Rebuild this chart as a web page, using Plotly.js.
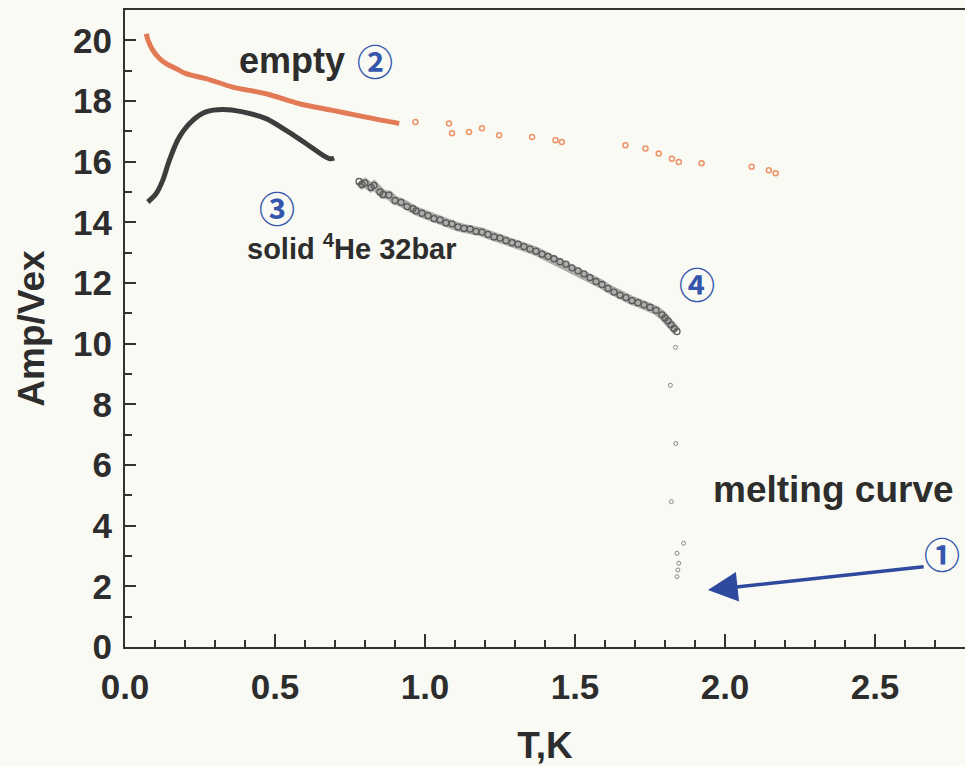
<!DOCTYPE html>
<html>
<head>
<meta charset="utf-8">
<script src="https://cdn.plot.ly/plotly-3.0.1.min.js"></script>
<style>html,body{margin:0;padding:0;background:#f9faf4;}</style>
</head>
<body>
<div id="chart" style="width:965px;height:766px;"></div>
<script>
// ② empty cell (dense part)
const emptyT = [0.071,0.077,0.093,0.115,0.137,0.170,0.204,0.270,0.359,0.470,0.581,0.692,0.803,0.858,0.914];
const emptyA = [20.22,20.00,19.67,19.40,19.23,19.07,18.90,18.74,18.46,18.24,17.91,17.69,17.47,17.36,17.26];
// ② empty cell (sparse tail)
const emptyTailT = [0.968,1.080,1.090,1.147,1.190,1.247,1.357,1.435,1.456,1.668,1.735,1.779,1.823,1.846,1.922,2.089,2.146,2.169];
const emptyTailA = [17.31,17.26,16.94,16.98,17.10,16.87,16.81,16.71,16.65,16.54,16.43,16.27,16.10,15.99,15.95,15.83,15.72,15.62];
// ③ solid 4He 32bar (low T)
const solidT = [0.076,0.104,0.126,0.148,0.181,0.226,0.270,0.326,0.392,0.470,0.537,0.603,0.681,0.697];
const solidA = [14.67,14.95,15.39,16.05,16.81,17.36,17.64,17.72,17.64,17.42,17.03,16.60,16.10,16.12];
// ④ solid 4He 32bar (high T, up to melting)
const highT = [0.78,0.79,0.80,0.82,0.83,0.85,0.86,0.88,0.90,0.92,0.94,0.96,0.97,0.99,1.01,1.03,1.05,1.07,1.09,1.11,1.13,1.15,1.17,1.19,1.21,1.23,1.25,1.27,1.29,1.31,1.33,1.35,1.37,1.39,1.41,1.43,1.45,1.47,1.49,1.51,1.53,1.55,1.57,1.59,1.61,1.63,1.65,1.67,1.69,1.71,1.73,1.75,1.77,1.79,1.80,1.81,1.82,1.83,1.84];
const highA = [15.35,15.25,15.30,15.15,15.22,15.00,14.92,14.90,14.72,14.66,14.52,14.45,14.38,14.30,14.22,14.12,14.08,13.98,13.95,13.85,13.80,13.78,13.70,13.68,13.60,13.52,13.48,13.40,13.33,13.28,13.20,13.12,13.05,12.95,12.88,12.80,12.70,12.62,12.50,12.40,12.30,12.18,12.05,11.95,11.82,11.70,11.60,11.52,11.42,11.35,11.28,11.20,11.10,10.95,10.85,10.75,10.62,10.50,10.40];
const meltT = [1.835,1.818,1.836,1.821,1.862,1.840,1.846,1.843,1.840];
const meltA = [9.88,8.63,6.71,4.79,3.42,3.09,2.76,2.54,2.32];
// axis ticks
const xRange = [0, 2.8];
const yRange = [0, 21];
const xMajor = 0.5, xMinor = 0.1;
const yMajor = 2, yMinor = 1;

const FONT = "Liberation Sans, Arial, sans-serif";
const CJK = "Noto Sans CJK JP, sans-serif";
const TXT = "#2d2d2d";
const BLUE = "#3556ad";

const traces = [
  {x: emptyT, y: emptyA, mode: "lines", line: {color: "#e27a55", width: 5, shape: "spline"}},
  {x: emptyTailT, y: emptyTailA, mode: "markers", marker: {symbol: "circle-open", size: 5, color: "#ec9468", line: {width: 1.5}}},
  {x: solidT, y: solidA, mode: "lines", line: {color: "#3d3d3d", width: 5, shape: "spline"}},
  {x: highT, y: highA, mode: "lines", line: {color: "rgba(100,100,100,0.5)", width: 9}},
  {x: highT, y: highA, mode: "markers", marker: {symbol: "circle-open", size: 6, color: "#5a5a5a", line: {width: 1.3}}},
  // melting points drawn on the twin axes (same ranges) that carry the minor ticks
  {x: meltT, y: meltA, xaxis: "x2", yaxis: "y2", mode: "markers", marker: {symbol: "circle-open", size: 4, color: "#888", line: {width: 1}}}
];

const layout = {
  width: 965, height: 766,
  margin: {l: 125, r: 0, t: 10, b: 119},
  paper_bgcolor: "#f9faf4", plot_bgcolor: "#f9faf4",
  showlegend: false,
  xaxis: {
    range: xRange, tick0: 0, dtick: xMajor, tickformat: ".1f",
    ticks: "inside", ticklen: 13, tickwidth: 2, tickcolor: "#333",
    showline: true, linewidth: 2, linecolor: "#333", mirror: true,
    showgrid: false, zeroline: false, ticklabelstandoff: 8,
    tickfont: {family: FONT, size: 35, color: TXT, weight: "bold"},
    title: {text: "T,K", font: {family: FONT, size: 37, color: TXT, weight: "bold"}, standoff: 28}
  },
  yaxis: {
    range: yRange, tick0: 0, dtick: yMajor,
    ticks: "inside", ticklen: 11, tickwidth: 2, tickcolor: "#333",
    showline: true, linewidth: 2, linecolor: "#333",
    showgrid: false, zeroline: false, ticklabelstandoff: 4,
    tickfont: {family: FONT, size: 35, color: TXT, weight: "bold"},
    title: {text: "Amp/Vex", font: {family: FONT, size: 37, color: TXT, weight: "bold"}, standoff: 17}
  },
  xaxis2: {
    overlaying: "x", anchor: "y2", side: "bottom", range: xRange, tick0: 0, dtick: xMinor,
    ticks: "inside", ticklen: 7, tickwidth: 2, tickcolor: "#333",
    showticklabels: false, showline: false, showgrid: false, zeroline: false
  },
  yaxis2: {
    overlaying: "y", anchor: "x2", side: "left", range: yRange, tick0: 0, dtick: yMinor,
    ticks: "inside", ticklen: 7, tickwidth: 2, tickcolor: "#333",
    showticklabels: false, showline: false, showgrid: false, zeroline: false
  },
  annotations: [
    {x: 0.557, y: 19.35, text: "empty", showarrow: false, font: {family: FONT, size: 36, color: TXT, weight: "bold"}},
    {x: 0.833, y: 19.35, text: "②", showarrow: false, font: {family: CJK, size: 36, color: BLUE, weight: "bold"}},
    {x: 0.507, y: 14.52, text: "③", showarrow: false, font: {family: CJK, size: 36, color: BLUE, weight: "bold"}},
    {x: 0.757, y: 13.19, text: "solid <sup>4</sup>He 32bar", showarrow: false, font: {family: FONT, size: 29, color: TXT, weight: "bold"}},
    {x: 1.907, y: 12.0, text: "④", showarrow: false, font: {family: CJK, size: 36, color: BLUE, weight: "bold"}},
    {x: 2.363, y: 5.18, text: "melting curve", showarrow: false, font: {family: FONT, size: 37, color: TXT, weight: "bold"}},
    {x: 2.722, y: 3.09, text: "①", showarrow: false, font: {family: CJK, size: 36, color: BLUE, weight: "bold"}},
    {x: 1.943, y: 1.88, ax: 2.667, ay: 2.65, axref: "x", ayref: "y", text: "", showarrow: true,
     arrowhead: 2, arrowsize: 1.7, arrowwidth: 3.5, arrowcolor: "#2e4a9e"}
  ]
};

Plotly.newPlot("chart", traces, layout, {displayModeBar: false, staticPlot: true});
</script>
</body>
</html>
